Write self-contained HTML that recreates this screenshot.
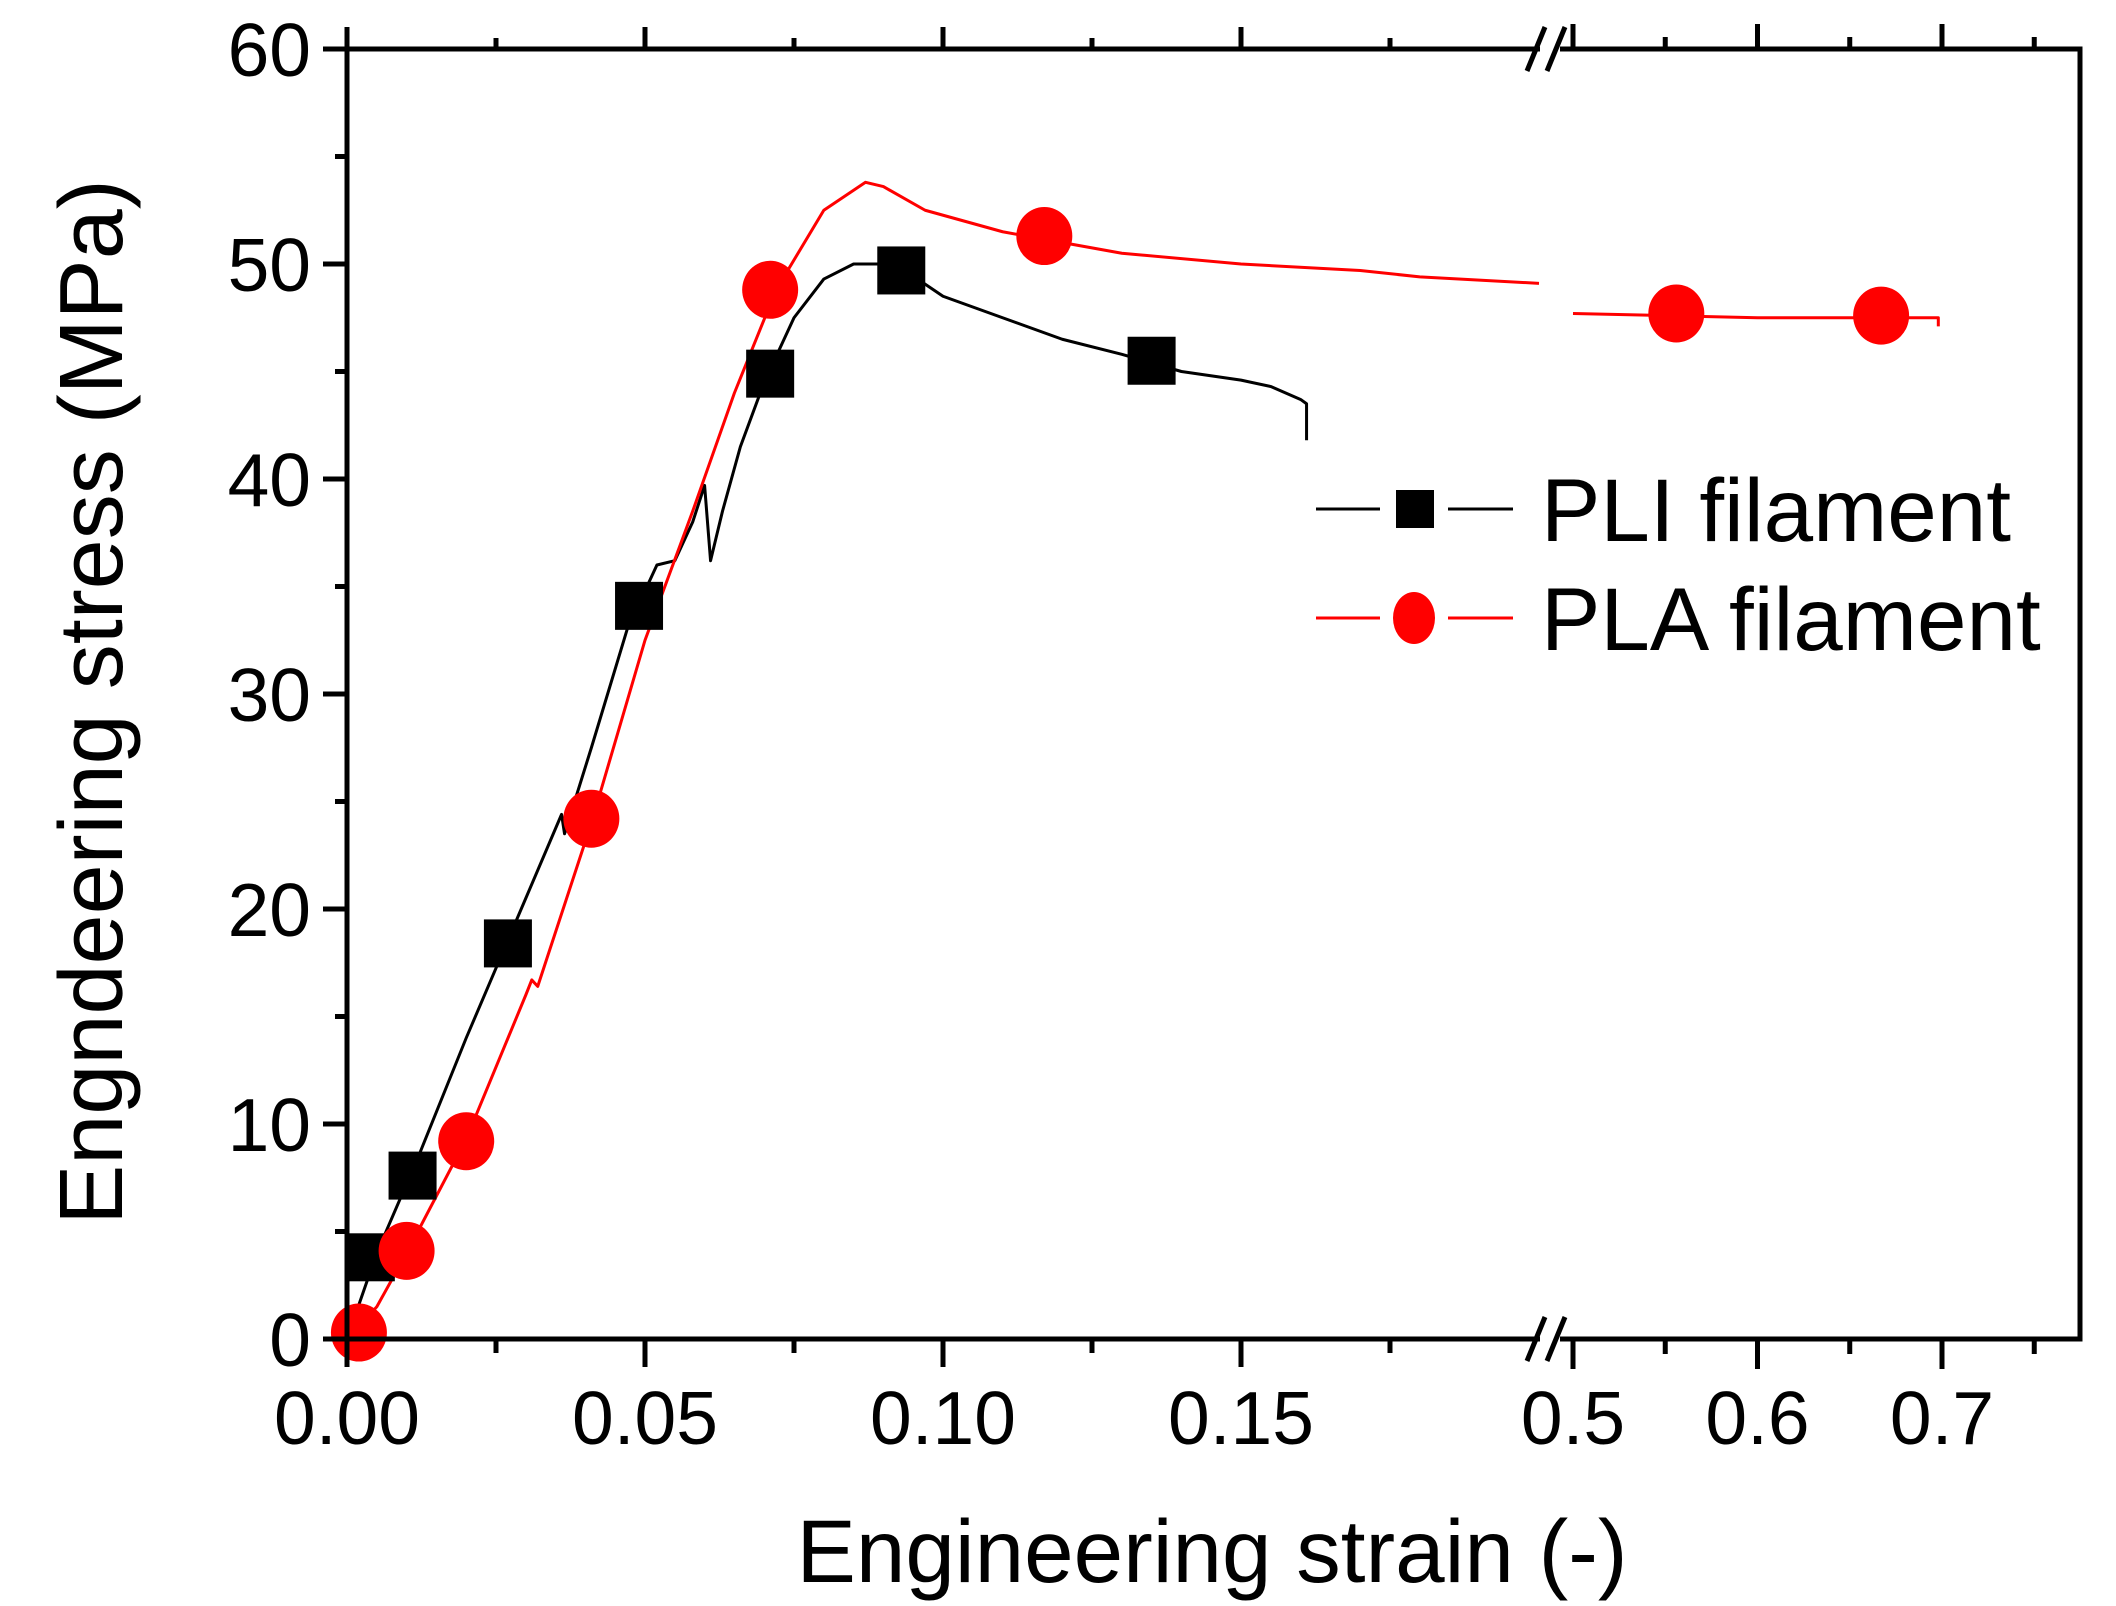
<!DOCTYPE html>
<html><head><meta charset="utf-8"><style>
html,body{margin:0;padding:0;background:#fff;}
svg{display:block;font-family:"Liberation Sans",Arial,sans-serif;}
</style></head><body>
<svg id="chart" width="2116" height="1606" viewBox="0 0 2116 1606">
<g id="grid-layer"></g>
<g id="series-layer"></g>
<g id="axes-layer"></g>
</svg>
<script>
// --- data ---
const pliStrain = [0,0.005,0.012,0.02,0.03,0.036,0.0365,0.041,0.047,0.052,0.055,0.058,0.06,0.061,0.063,0.066,0.07,0.075,0.08,0.085,0.092,0.1,0.11,0.12,0.13,0.14,0.15,0.155,0.16,0.161,0.161];
const pliStress = [0,4,8.5,14,20.5,24.4,23.5,27.5,33,36,36.2,38,39.7,36.2,38.5,41.5,44.5,47.5,49.3,50,50,48.5,47.5,46.5,45.8,45,44.6,44.3,43.7,43.5,41.8];
const pliMarkX = [0.004,0.011,0.027,0.049,0.071,0.093,0.135];
const pliMarkY = [3.8,7.6,18.4,34.1,44.9,49.7,45.5];
const plaStrainLeft = [0,0.005,0.01,0.02,0.03,0.031,0.032,0.041,0.05,0.058,0.065,0.072,0.08,0.087,0.09,0.097,0.11,0.13,0.15,0.17,0.18,0.2];
const plaStressLeft = [0,1.5,4,9.3,16,16.7,16.4,24,32.5,38.5,44,48.8,52.5,53.8,53.6,52.5,51.5,50.5,50,49.7,49.4,49.1];
const plaStrainRight = [0.5,0.55,0.6,0.65,0.698,0.698];
const plaStressRight = [47.7,47.6,47.5,47.5,47.5,47.1];
const plaMarkX = [0.002,0.01,0.02,0.041,0.071,0.117,0.556,0.667];
const plaMarkY = [0.3,4.1,9.2,24.2,48.8,51.3,47.7,47.6];
const yTicks = [0,10,20,30,40,50,60];
const yTickLabels = ["0","10","20","30","40","50","60"];
const xTicksLeft = [0,0.05,0.10,0.15];
const xTickLabelsLeft = ["0.00","0.05","0.10","0.15"];
const xTicksRight = [0.5,0.6,0.7];
const xTickLabelsRight = ["0.5","0.6","0.7"];

// --- layout ---
const L=347,R=2080,T=49,B=1339,BRK=1552,RSTART=1573;
const NS="http://www.w3.org/2000/svg";
function yS(v){return B-(v/60)*(B-T);}
function xS(v){ if(v<=0.3) return L+v*(1192/0.2); return RSTART+(v-0.5)*1845; }
function mk(tag,attrs,parent){const e=document.createElementNS(NS,tag);for(const k in attrs)e.setAttribute(k,attrs[k]);parent.appendChild(e);return e;}
const ax=document.getElementById('axes-layer'), sl=document.getElementById('series-layer');

let f=mk('path',{d:`M${L},${T}H${R}V${B}H${L}Z`,fill:'none',stroke:'#000','stroke-width':5},ax);


[T,B].forEach((yy,i)=>{
  let g=mk('rect',{x:BRK-12,y:yy-5,width:20,height:10,fill:'#fff'},ax);
  
  
  [BRK-16,BRK+4].forEach(bx=>{
    let s=mk('line',{x1:bx-9,y1:yy+22,x2:bx+9,y2:yy-22,stroke:'#000','stroke-width':5},ax);
    
    
  });
});
for(let v=0;v<=60;v+=5){
  const major=v%10===0;
  let t=mk('line',{x1:L-(major?24:12),y1:yS(v),x2:L,y2:yS(v),stroke:'#000','stroke-width':5},ax);
  
  
}
yTicks.forEach((v,i)=>{
  let t=mk('text',{x:L-36,y:yS(v)+27,'text-anchor':'end','font-size':75},ax);
  t.textContent=yTickLabels[i];
  
  
});
for(let i=0;i<=8;i++){
  const v=i*0.025, major=i%2===0;
  if(xS(v)>BRK-20) continue;
  let t=mk('line',{x1:xS(v),y1:B,x2:xS(v),y2:B+(major?28:14),stroke:'#000','stroke-width':5},ax);
  
  
  let t2=mk('line',{x1:xS(v),y1:T,x2:xS(v),y2:T-(major?22:11),stroke:'#000','stroke-width':5},ax);
  
  
}
for(let i=0;i<=5;i++){
  const v=0.5+i*0.05, major=i%2===0;
  if(xS(v)>R-5) continue;
  let t=mk('line',{x1:xS(v),y1:B,x2:xS(v),y2:B+(major?30:15),stroke:'#000','stroke-width':5},ax);
  
  
  let t2=mk('line',{x1:xS(v),y1:T,x2:xS(v),y2:T-(major?25:12),stroke:'#000','stroke-width':5},ax);
  
  
}
xTicksLeft.forEach((v,i)=>{
  let t=mk('text',{x:xS(v),y:1444,'text-anchor':'middle','font-size':75},ax);
  t.textContent=xTickLabelsLeft[i];
  
  
});
xTicksRight.forEach((v,i)=>{
  let t=mk('text',{x:xS(v),y:1444,'text-anchor':'middle','font-size':75},ax);
  t.textContent=xTickLabelsRight[i];
  
  
});
let xt=mk('text',{x:1212,y:1582,'text-anchor':'middle','font-size':89},ax);
xt.textContent='Engineering strain (-)';


let yt=mk('text',{x:0,y:0,'text-anchor':'middle','font-size':90,transform:'translate(122,702) rotate(-90)'},ax);
yt.textContent='Engndeering stress (MPa)';



function poly(xs,ys,color,name){
  let p=mk('polyline',{points:xs.map((x,i)=>xS(x)+','+yS(ys[i])).join(' '),fill:'none',stroke:color,'stroke-width':3,'stroke-linejoin':'round'},sl);
  
  
}
poly(pliStrain,pliStress,'#000','pli-line');
poly(plaStrainLeft,plaStressLeft,'#f00','pla-line-left');
poly(plaStrainRight,plaStressRight,'#f00','pla-line-right');
pliMarkX.forEach((x,i)=>{
  let m=mk('rect',{x:xS(x)-24,y:yS(pliMarkY[i])-24,width:48,height:48,fill:'#000'},sl);
  
  
});
plaMarkX.forEach((x,i)=>{
  let m=mk('ellipse',{cx:xS(x),cy:yS(plaMarkY[i]),rx:28,ry:29,fill:'#f00'},sl);
  
  
});
const lg=mk('g',{},sl);


[[509,'#000','PLI filament','rect'],[618,'#f00','PLA filament','circ']].forEach(([yy,c,lab,shape])=>{
  let l1=mk('line',{x1:1316,y1:yy,x2:1380,y2:yy,stroke:c,'stroke-width':3},lg);
  
  
  let l2=mk('line',{x1:1448,y1:yy,x2:1513,y2:yy,stroke:c,'stroke-width':3},lg);
  
  
  let m = shape==='rect' ? mk('rect',{x:1396,y:yy-19,width:38,height:38,fill:c},lg) : mk('ellipse',{cx:1414,cy:yy,rx:21,ry:26,fill:c},lg);
  
  
  let t=mk('text',{x:1541,y:yy+32,'font-size':89},lg);
  t.textContent=lab;
  
  
});
</script>
</body></html>
